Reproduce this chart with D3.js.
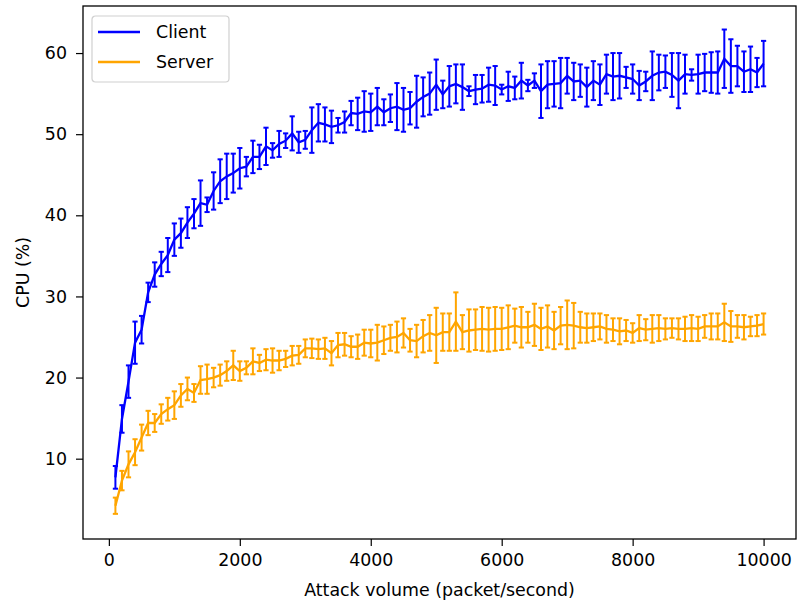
<!DOCTYPE html>
<html>
<head>
<meta charset="utf-8">
<script src="https://cdn.jsdelivr.net/npm/d3@7"></script>
<style>
    body { margin: 0; background: #fff; }
    svg { display: block; font-family: "DejaVu Sans", sans-serif; }
</style>
</head>
<body>
<svg id="chart"></svg>
<script>
// attack volumes (packet/second)
const volumes = d3.range(100, 10001, 100);

const clientMean = [
    7.7, 14.9, 19.5, 24.3, 25.9, 30.5, 32.7, 34.0, 35.1, 37.0,
    37.8, 39.1, 40.2, 41.5, 41.3, 43.0, 44.2, 44.8, 45.2, 45.8,
    46.0, 47.2, 47.2, 48.5, 48.0, 48.8, 49.2, 50.1, 49.0, 49.3,
    50.5, 51.4, 51.2, 50.9, 51.1, 51.5, 52.6, 52.5, 52.8, 52.7,
    53.4, 52.7, 53.2, 53.4, 53.0, 53.2, 54.0, 54.6, 55.0, 56.1,
    54.9, 55.9, 56.2, 55.8, 55.3, 55.5, 55.6, 56.1, 56.0, 55.5,
    55.9, 55.7, 56.6, 56.0, 56.6, 55.3, 56.1, 56.2, 56.3, 57.2,
    56.5, 56.6, 55.8, 56.6, 56.1, 57.4, 57.1, 57.2, 57.0, 56.8,
    56.0, 56.5, 57.2, 57.6, 57.7, 57.3, 56.6, 57.4, 57.3, 57.4,
    57.6, 57.6, 57.6, 59.3, 58.4, 58.4, 57.7, 58.0, 57.6, 58.7
];
const clientErr = [
    1.4, 1.7, 2.0, 2.6, 1.7, 1.2, 1.5, 1.5, 2.1, 2.0,
    1.8, 1.9, 1.8, 2.8, 0.9, 2.3, 2.7, 2.8, 2.4, 2.5,
    1.2, 2.0, 1.5, 2.3, 0.9, 1.6, 0.9, 2.1, 1.3, 1.1,
    2.8, 2.3, 2.1, 2.0, 0.9, 1.3, 1.5, 2.0, 2.5, 2.3,
    2.3, 1.6, 1.7, 2.9, 2.7, 2.0, 3.2, 2.4, 2.6, 3.1,
    1.7, 2.5, 2.4, 2.8, 0.6, 1.8, 1.7, 2.1, 2.4, 0.6,
    1.8, 1.4, 2.2, 0.7, 0.9, 3.3, 2.9, 2.8, 3.1, 2.2,
    2.3, 2.0, 2.4, 2.4, 2.5, 2.4, 2.9, 2.8, 1.3, 1.8,
    1.8, 1.2, 3.0, 2.2, 2.0, 2.7, 3.4, 2.4, 0.7, 2.4,
    2.3, 2.5, 2.6, 3.6, 3.3, 2.5, 2.5, 2.8, 1.8, 2.8
];

const serverMean = [
    4.2, 7.3, 9.3, 10.8, 12.6, 14.4, 14.4, 15.5, 16.1, 16.6,
    17.8, 18.6, 18.1, 19.7, 19.8, 20.0, 20.3, 20.8, 21.5, 20.8,
    21.2, 22.0, 21.8, 22.2, 22.1, 22.1, 22.3, 22.7, 22.8, 23.6,
    23.6, 23.5, 23.6, 23.0, 24.0, 24.1, 23.8, 23.8, 24.3, 24.2,
    24.3, 24.6, 24.9, 25.0, 25.5, 24.6, 24.5, 25.1, 25.5, 25.2,
    25.6, 25.6, 26.9, 25.6, 25.8, 25.9, 26.0, 25.9, 26.0, 26.0,
    26.2, 26.4, 26.2, 26.2, 26.5, 26.0, 26.3, 25.8, 26.4, 26.5,
    26.4, 26.2, 26.1, 26.2, 26.3, 26.0, 25.9, 25.7, 25.8, 25.5,
    26.1, 25.9, 26.0, 26.1, 26.0, 26.1, 26.0, 26.0, 26.1, 26.0,
    26.3, 26.3, 26.3, 26.8, 26.3, 26.3, 26.2, 26.3, 26.4, 26.6
];
const serverErr = [
    1.0, 1.2, 1.6, 1.6, 1.6, 1.5, 1.1, 1.2, 1.4, 1.7,
    1.4, 1.4, 1.1, 1.7, 1.8, 1.2, 1.3, 1.2, 1.8, 1.2,
    0.8, 1.6, 1.0, 1.3, 1.5, 1.2, 1.0, 1.2, 1.1, 1.1,
    1.2, 1.2, 1.3, 1.5, 1.5, 1.4, 1.3, 1.5, 1.6, 1.7,
    2.2, 1.7, 1.6, 1.9, 1.8, 1.4, 2.0, 2.0, 2.2, 3.4,
    2.3, 2.3, 3.6, 2.1, 2.6, 2.5, 2.7, 2.7, 2.7, 2.6,
    2.7, 2.1, 2.5, 1.9, 2.6, 2.6, 2.6, 2.3, 2.3, 3.0,
    2.8, 1.9, 1.8, 1.7, 1.6, 1.7, 1.4, 1.6, 1.3, 1.2,
    1.6, 1.3, 1.7, 1.6, 1.3, 1.2, 1.3, 1.5, 1.6, 1.5,
    1.4, 1.6, 1.6, 2.3, 1.9, 1.4, 1.5, 1.2, 1.3, 1.3
];

const xTicks = [0, 2000, 4000, 6000, 8000, 10000];
const yTicks = [10, 20, 30, 40, 50, 60];

const seriesNames = ['Client', 'Server'];
const seriesColors = ['#0000ff', '#ffa500'];

class ErrorbarChart {
    constructor() {
        this.width = 799;
        this.height = 605;
        this.margin = { left: 83, right: 3, top: 6, bottom: 66 };
        this.svg = d3.select('#chart')
            .attr('width', this.width)
            .attr('height', this.height);

        this.innerW = this.width - this.margin.left - this.margin.right;
        this.innerH = this.height - this.margin.top - this.margin.bottom;

        this.x = d3.scaleLinear().domain([-395, 10495]).range([0, this.innerW]);
        this.y = d3.scaleLinear().domain([0.1, 65.8]).range([this.innerH, 0]);

        this.g = this.svg.append('g')
            .attr('transform', `translate(${this.margin.left},${this.margin.top})`);

        this.series = [
            { name: seriesNames[0], color: seriesColors[0], mean: clientMean, err: clientErr },
            { name: seriesNames[1], color: seriesColors[1], mean: serverMean, err: serverErr }
        ];

        this.render();
    }

    render() {
        const fs = '17.4px';

        // series: line through means plus error bars with caps
        this.series.forEach(s => {
            const pts = volumes.map((v, i) => ({ x: v, m: s.mean[i], e: s.err[i] }));
            const sg = this.g.append('g');

            sg.append('path')
                .datum(pts)
                .attr('fill', 'none')
                .attr('stroke', s.color)
                .attr('stroke-width', 2.3)
                .attr('d', d3.line().x(d => this.x(d.x)).y(d => this.y(d.m)));

            const bars = sg.selectAll('.bar')
                .data(pts)
                .enter()
                .append('g')
                .attr('stroke', s.color)
                .attr('stroke-width', 2);

            bars.append('line')
                .attr('x1', d => this.x(d.x))
                .attr('x2', d => this.x(d.x))
                .attr('y1', d => this.y(d.m - d.e))
                .attr('y2', d => this.y(d.m + d.e));

            [-1, 1].forEach(sign => {
                bars.append('line')
                    .attr('x1', d => this.x(d.x) - 2.6)
                    .attr('x2', d => this.x(d.x) + 2.6)
                    .attr('y1', d => this.y(d.m + sign * d.e))
                    .attr('y2', d => this.y(d.m + sign * d.e));
            });
        });

        // axes
        const xAxis = this.g.append('g')
            .attr('transform', `translate(0,${this.innerH})`)
            .call(d3.axisBottom(this.x).tickValues(xTicks).tickFormat(d3.format('d'))
                .tickSize(7).tickPadding(8));
        const yAxis = this.g.append('g')
            .call(d3.axisLeft(this.y).tickValues(yTicks).tickSize(7).tickPadding(9));

        [xAxis, yAxis].forEach(a => {
            a.select('.domain').remove();
            a.selectAll('line').attr('stroke', '#000').attr('stroke-width', 1.2);
            a.selectAll('text')
                .attr('fill', '#000')
                .style('font-size', fs)
                .style('font-family', '"DejaVu Sans", sans-serif');
        });

        // frame
        this.g.append('rect')
            .attr('width', this.innerW)
            .attr('height', this.innerH)
            .attr('fill', 'none')
            .attr('stroke', '#000')
            .attr('stroke-width', 1.3);

        // axis labels
        this.svg.append('text')
            .attr('x', this.margin.left + this.x(5050))
            .attr('y', 596)
            .attr('text-anchor', 'middle')
            .style('font-size', fs)
            .text('Attack volume (packet/second)');

        this.svg.append('text')
            .attr('transform', `translate(29,${this.margin.top + this.innerH / 2}) rotate(-90)`)
            .attr('text-anchor', 'middle')
            .style('font-size', fs)
            .text('CPU (%)');

        // legend
        const lg = this.svg.append('g').attr('transform', 'translate(92,16)');
        lg.append('rect')
            .attr('width', 137)
            .attr('height', 66)
            .attr('rx', 3.5)
            .attr('fill', '#fff')
            .attr('fill-opacity', 0.8)
            .attr('stroke', '#d0d0d0')
            .attr('stroke-width', 1.2);

        this.series.forEach((s, i) => {
            const yy = 16 + i * 30;
            lg.append('line')
                .attr('x1', 6).attr('x2', 48)
                .attr('y1', yy).attr('y2', yy)
                .attr('stroke', s.color)
                .attr('stroke-width', 2.3);
            lg.append('text')
                .attr('x', 64)
                .attr('y', yy + 6)
                .style('font-size', fs)
                .text(s.name);
        });
    }
}

new ErrorbarChart();
</script>
</body>
</html>
